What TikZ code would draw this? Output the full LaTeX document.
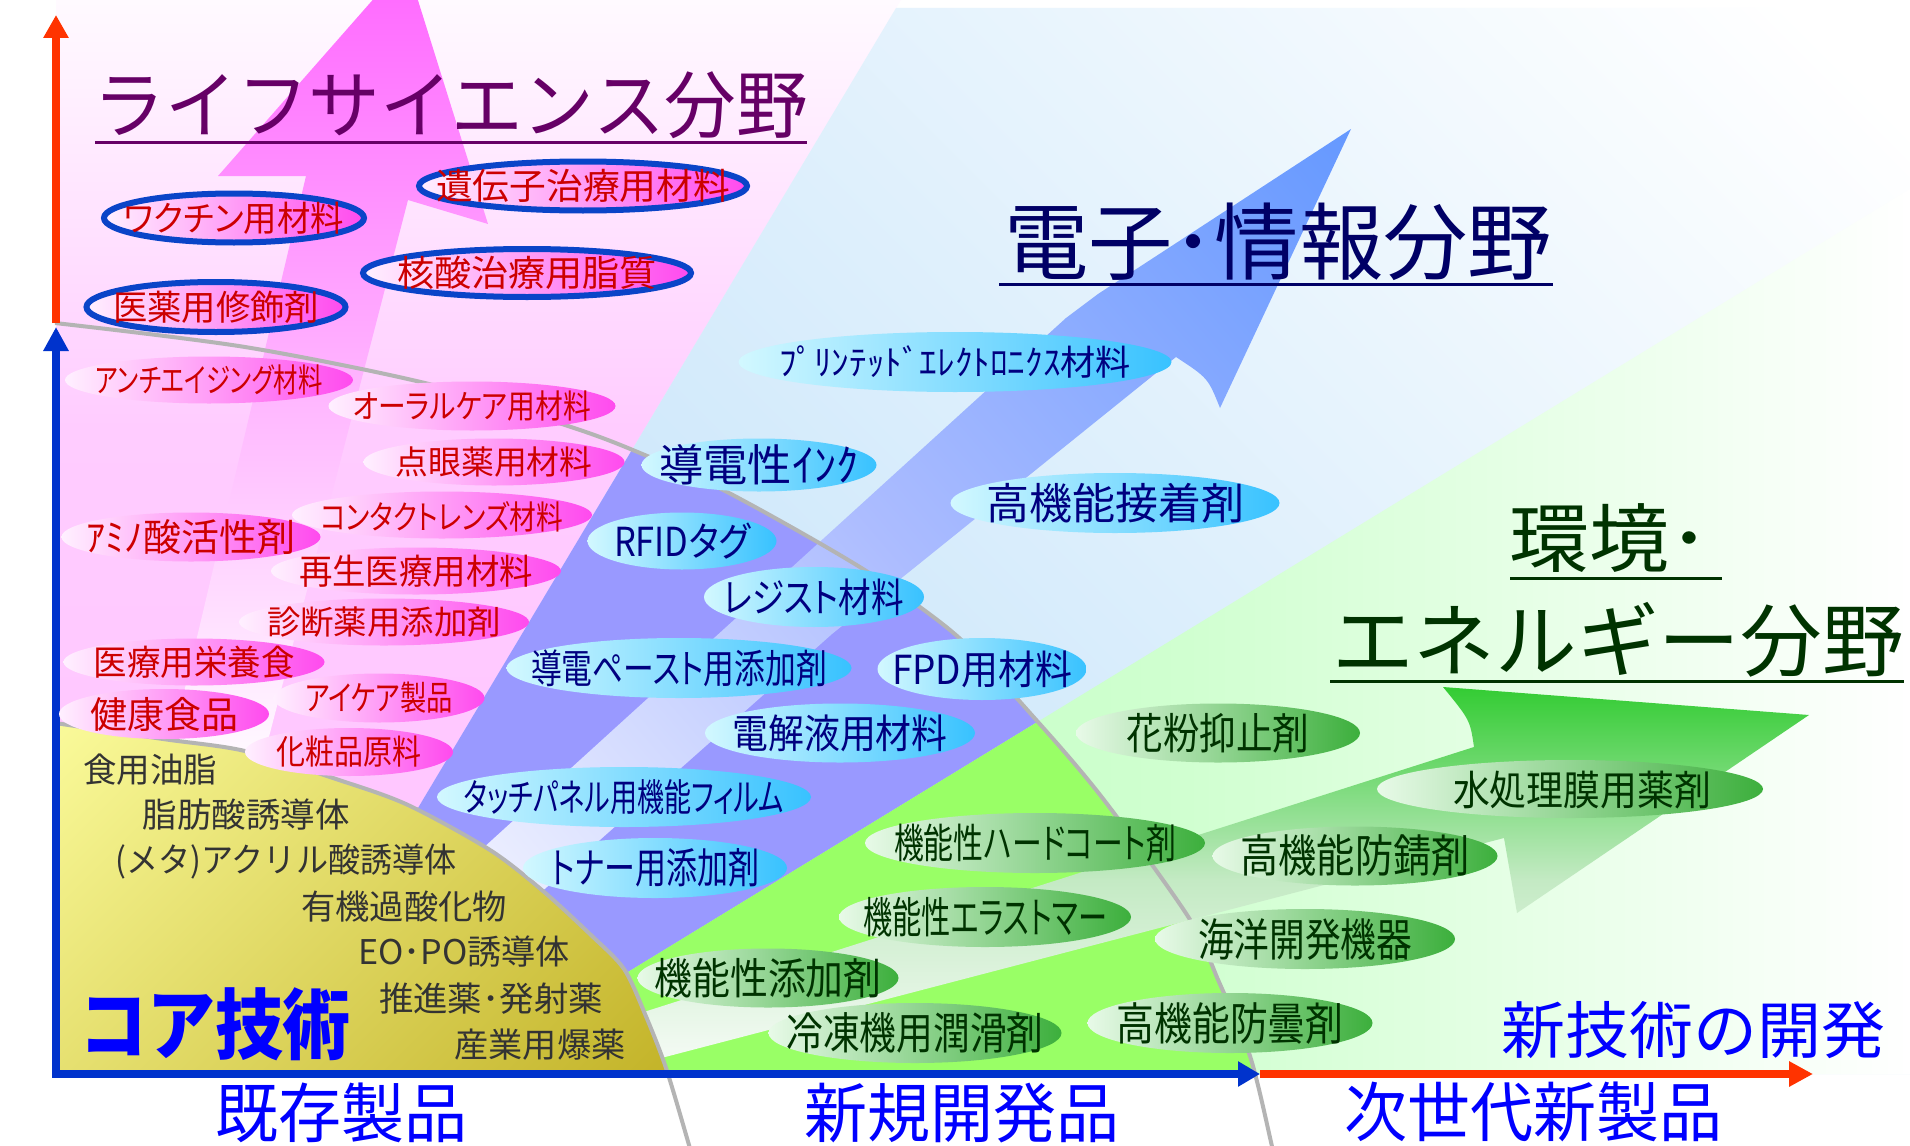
\documentclass[tikz,border=0pt]{standalone}
\usepackage{fontspec}
\usepackage{graphicx}
\setmainfont{Noto Sans CJK JP}
\newfontfamily\jpp[RawFeature=+palt]{Noto Sans CJK JP}
\usetikzlibrary{shapes.geometric,arrows.meta}
\definecolor{pinkL}{HTML}{FFF0FF}
\definecolor{pinkR}{HTML}{FF4AEE}
\definecolor{cyanL}{HTML}{D2F8FF}
\definecolor{cyanR}{HTML}{38C2FF}
\definecolor{grnL}{HTML}{E8FAE8}
\definecolor{grnR}{HTML}{3CAF3C}
\definecolor{ringblue}{HTML}{0A44C8}
\definecolor{lblred}{HTML}{CC0000}
\definecolor{lblnavy}{HTML}{000080}
\definecolor{lblgreen}{HTML}{003300}
\definecolor{lblgray}{HTML}{333333}
\definecolor{axred}{HTML}{FF3300}
\definecolor{axblue}{HTML}{0033CC}
\definecolor{violetbg}{HTML}{9999FF}
\definecolor{limebg}{HTML}{99FF66}
\definecolor{curvegray}{HTML}{B4B4B4}
\definecolor{titlepurple}{HTML}{660066}
\definecolor{titlenavy}{HTML}{000066}
\definecolor{titlegreen}{HTML}{003300}
\definecolor{pureblue}{HTML}{0000FF}
\definecolor{pinkTop}{HTML}{FFFAFF}
\definecolor{pinkMid}{HTML}{FFCCFF}
\definecolor{pinkBot}{HTML}{FFC6FF}
\definecolor{skyL}{HTML}{C6E4FA}
\definecolor{paleG1}{HTML}{B8FFB8}
\definecolor{paleG2}{HTML}{D0FFD0}
\definecolor{magA}{HTML}{FF66FF}
\definecolor{magB}{HTML}{FFFAFF}
\definecolor{eblueA}{HTML}{6699FF}
\definecolor{eblueM}{HTML}{ACBCFF}
\definecolor{eblueB}{HTML}{F8F8FF}
\definecolor{garA}{HTML}{33CC33}
\definecolor{garM}{HTML}{C4EAC4}
\definecolor{garB}{HTML}{F8FCF8}
\definecolor{yelA}{HTML}{FAFA9A}
\definecolor{yelB}{HTML}{C2B226}
\newcommand\mylbl[3]{\resizebox{#2pt}{\height}{\fontsize{#1}{#1}\selectfont #3}}
\begin{document}
\begin{tikzpicture}[x=1pt,y=-1pt,
  ellbase/.style={ellipse,inner sep=0pt,outer sep=0pt},
  pinkell/.style={ellbase,left color=pinkL,right color=pinkR},
  ringell/.style={pinkell,draw=ringblue,line width=6pt},
  blueell/.style={ellbase,left color=cyanL,right color=cyanR},
  greenell/.style={ellbase,left color=grnL,right color=grnR},
  txtbase/.style={inner sep=0pt,outer sep=0pt,font=\jpp},
  redtxt/.style={txtbase,text=lblred},
  navytxt/.style={txtbase,text=lblnavy},
  greentxt/.style={txtbase,text=lblgreen},
  coretxt/.style={inner sep=0pt,outer sep=0pt,text=lblgray},
  bluetxt/.style={inner sep=0pt,outer sep=0pt,text=pureblue},
  titletxt/.style={inner sep=0pt,outer sep=0pt},
  gcurve/.style={draw=curvegray,line width=4pt},
  axisline/.style={line width=8pt},
  uline/.style={line width=3pt}
]
\useasboundingbox (0,0) rectangle (1910,1145);
\clip (0,0) rectangle (1910,1145);
\fill[white] (0,0) rectangle (1910,1145);

% life science (pink) region
\shade[top color=pinkTop, bottom color=pinkBot, middle color=pinkMid] (56,0) -- (901,0) -- (390,855) -- (56,855) -- cycle;

% light blue region
\begin{scope}
\clip (896,8) -- (1910,8) -- (1910,1074) -- (259,1074) -- cycle;
\shade[top color=white, bottom color=skyL, shading angle=-45] (600,-200) rectangle (2000,1200);
\end{scope}

% pale green region
\shade[left color=paleG1, right color=white, middle color=paleG2] (1910,189) -- (1910,1074) -- (461,1074) -- cycle;

% violet and green inside the outer curve
\begin{scope}
\clip plot[smooth] coordinates {(55,323) (245,347) (429,384) (571,427) (640,453) (729,493) (863,569) (957,636) (1038,722) (1104,800) (1189,918) (1219,982) (1250,1056) (1271,1142) (1272,1150)} -- (0,1150) -- (0,323) -- cycle;
\fill[violetbg] (896,8) -- (1910,8) -- (1910,189) -- (461,1074) -- (259,1074) -- cycle;
\fill[limebg] (1910,189) -- (1910,1074) -- (461,1074) -- cycle;
\end{scope}

% life science arrow
\shade[top color=magA, bottom color=magB] (406,-38) -- (488,224) -- (408,200) -- (263,760) -- (168,760) -- (306,176) -- (218,176) -- cycle;

% electronics arrow
\begin{scope}
\clip (1351,129) -- (1220,408) .. controls (1208,378) .. (1176,357) -- (832,634) -- (476,950) -- (371,950) -- (1066,318) -- (1098,294) -- cycle;
\shade[top color=eblueA, bottom color=eblueB, middle color=eblueM, shading angle=-49.3] (271,-74) rectangle (1499,1154);
\end{scope}

% environment arrow
\shade[top color=garA, bottom color=garB, middle color=garM] (1443,687) -- (1809,715) -- (1517,913) -- (1504,838) -- (600,1074) -- (600,1026) -- (1474,747) .. controls (1470,720) .. (1443,687) -- cycle;

% core technology region
\begin{scope}
\clip (0,0) rectangle (1910,1074);
\clip plot[smooth] coordinates {(55,723) (163,739) (245,751) (339,780) (408,805) (490,850) (543,891) (592,936) (624,969) (645,1014) (666,1068) (689,1145) (690,1150)} -- (55,1150) -- cycle;
\shade[top color=yelA, bottom color=yelB, shading angle=45] (23,549) rectangle (721,1247);
\end{scope}

% gray boundary curves
\draw[gcurve] plot[smooth] coordinates {(55,323) (245,347) (429,384) (571,427) (640,453) (729,493) (863,569) (957,636) (1038,722) (1104,800) (1189,918) (1219,982) (1250,1056) (1271,1142) (1272,1150)};
\draw[gcurve] plot[smooth] coordinates {(55,723) (163,739) (245,751) (339,780) (408,805) (490,850) (543,891) (592,936) (624,969) (645,1014) (666,1068) (689,1145) (690,1150)};

% axes
\coordinate (O) at (56,1074);
\coordinate (Yb) at (56,327);
\coordinate (Ya) at (56,323);
\coordinate (Yt) at (56,15);
\coordinate (Xb) at (1260,1074);
\coordinate (Xt) at (1813,1074);
\draw[axisline,axblue,{Triangle[width=24pt,length=24pt]}-{Triangle[width=24pt,length=22pt]}] (Yb) -- (O) -- (Xb);
\draw[axisline,axred,-{Triangle[width=24pt,length=23pt]}] (Ya) -- (Yt);
\draw[axisline,axred,-{Triangle[width=24pt,length=24pt]}] (Xb) -- (Xt);

% titles
\node[titletxt,text=titlepurple] (tLS) at (451,105) {\mylbl{74}{714}{ライフサイエンス分野}};
\draw[uline,titlepurple] (95,142) -- (807,142);
\node[titletxt,text=titlenavy] (tEI) at (1278,242) {\mylbl{84}{548}{電子･情報分野}};
\draw[uline,titlenavy] (999,284) -- (1553,284);
\node[titletxt,text=titlegreen] (tEN1) at (1609,538) {\mylbl{75}{200}{環境･}};
\draw[uline,titlegreen] (1510,578) -- (1722,578);
\node[titletxt,text=titlegreen] (tEN2) at (1618,640) {\mylbl{80}{572}{エネルギー分野}};
\draw[uline,titlegreen] (1330,681) -- (1904,681);

% life science: outlined
\node[ringell,minimum width=260pt,minimum height=49pt] (eVac) at (234,218) {};
\node[redtxt] (tVac) at (eVac) {\mylbl{35}{220}{ワクチン用材料}};
\node[ringell,minimum width=328pt,minimum height=49pt] (eGene) at (583,186) {};
\node[redtxt] (tGene) at (eGene) {\mylbl{36}{294}{遺伝子治療用材料}};
\node[ringell,minimum width=328pt,minimum height=48pt] (eNuc) at (527,273) {};
\node[redtxt] (tNuc) at (eNuc) {\mylbl{36}{260}{核酸治療用脂質}};
\node[ringell,minimum width=259pt,minimum height=50pt] (eMod) at (216,307) {};
\node[redtxt] (tMod) at (eMod) {\mylbl{35}{206}{医薬用修飾剤}};

% life science: plain
\node[pinkell,minimum width=288pt,minimum height=47pt] (eAnti) at (209,380) {};
\node[redtxt] (tAnti) at (eAnti) {\mylbl{33}{227}{アンチエイジング材料}};
\node[pinkell,minimum width=287pt,minimum height=49pt] (eOral) at (472,406) {};
\node[redtxt] (tOral) at (eOral) {\mylbl{33}{238}{オーラルケア用材料}};
\node[pinkell,minimum width=261pt,minimum height=47pt] (eEye) at (494,462) {};
\node[redtxt] (tEye) at (eEye) {\mylbl{33}{197}{点眼薬用材料}};
\node[pinkell,minimum width=300pt,minimum height=47pt] (eLens) at (442,515) {};
\node[redtxt] (tLens) at (442,517) {\mylbl{33}{242}{コンタクトレンズ材料}};
\node[pinkell,minimum width=259pt,minimum height=49pt] (eAmino) at (191,537) {};
\node[redtxt] (tAmino) at (eAmino) {\mylbl{38}{209}{ｱﾐﾉ酸活性剤}};
\node[pinkell,minimum width=290pt,minimum height=47pt] (eRegen) at (416,571) {};
\node[redtxt] (tRegen) at (eRegen) {\mylbl{35}{234}{再生医療用材料}};
\node[pinkell,minimum width=290pt,minimum height=47pt] (eDiag) at (384,622) {};
\node[redtxt] (tDiag) at (eDiag) {\mylbl{33}{234}{診断薬用添加剤}};
\node[pinkell,minimum width=261pt,minimum height=47pt] (eNutr) at (194,662) {};
\node[redtxt] (tNutr) at (eNutr) {\mylbl{35}{201}{医療用栄養食}};
\node[pinkell,minimum width=211pt,minimum height=49pt] (eCare) at (379,698) {};
\node[redtxt] (tCare) at (eCare) {\mylbl{34}{148}{アイケア製品}};
\node[pinkell,minimum width=210pt,minimum height=50pt] (eHealth) at (164,714) {};
\node[redtxt] (tHealth) at (eHealth) {\mylbl{37}{148}{健康食品}};
\node[pinkell,minimum width=208pt,minimum height=48pt] (eCosm) at (349,752) {};
\node[redtxt] (tCosm) at (eCosm) {\mylbl{34}{145}{化粧品原料}};

% electronics
\node[blueell,minimum width=433pt,minimum height=60pt] (ePrint) at (955,362) {};
\node[navytxt] (tPrint) at (ePrint) {\mylbl{35}{352}{ﾌﾟﾘﾝﾃｯﾄﾞｴﾚｸﾄﾛﾆｸｽ材料}};
\node[blueell,minimum width=235pt,minimum height=53pt] (eInk) at (759,465) {};
\node[navytxt] (tInk) at (eInk) {\mylbl{44}{199}{導電性ｲﾝｸ}};
\node[blueell,minimum width=329pt,minimum height=60pt] (eAdh) at (1115,503) {};
\node[navytxt] (tAdh) at (eAdh) {\mylbl{43}{258}{高機能接着剤}};
\node[blueell,minimum width=189pt,minimum height=57pt] (eRfid) at (682,541) {};
\node[navytxt] (tRfid) at (eRfid) {\mylbl{40}{136}{RFIDタグ}};
\node[blueell,minimum width=220pt,minimum height=60pt] (eResist) at (814,597) {};
\node[navytxt] (tResist) at (eResist) {\mylbl{40}{180}{レジスト材料}};
\node[blueell,minimum width=345pt,minimum height=60pt] (ePaste) at (679,668) {};
\node[navytxt] (tPaste) at (ePaste) {\mylbl{40}{296}{導電ペースト用添加剤}};
\node[blueell,minimum width=209pt,minimum height=62pt] (eFpd) at (982,669) {};
\node[navytxt] (tFpd) at (eFpd) {\mylbl{40}{180}{FPD用材料}};
\node[blueell,minimum width=270pt,minimum height=59pt] (eElec) at (840,733) {};
\node[navytxt] (tElec) at (eElec) {\mylbl{40}{215}{電解液用材料}};
\node[blueell,minimum width=374pt,minimum height=60pt] (eTouch) at (624,797) {};
\node[navytxt] (tTouch) at (eTouch) {\mylbl{38}{320}{タッチパネル用機能フィルム}};
\node[blueell,minimum width=264pt,minimum height=60pt] (eToner) at (655,868) {};
\node[navytxt] (tToner) at (eToner) {\mylbl{42}{208}{トナー用添加剤}};

% environment
\node[greenell,minimum width=284pt,minimum height=59pt] (ePollen) at (1218,733) {};
\node[greentxt] (tPollen) at (ePollen) {\mylbl{43}{183}{花粉抑止剤}};
\node[greenell,minimum width=386pt,minimum height=58pt] (eWater) at (1570,789) {};
\node[greentxt] (tWater) at (1582,790) {\mylbl{41}{258}{水処理膜用薬剤}};
\node[greenell,minimum width=340pt,minimum height=60pt] (eHard) at (1035,843) {};
\node[greentxt] (tHard) at (eHard) {\mylbl{41}{282}{機能性ハードコート剤}};
\node[greenell,minimum width=285pt,minimum height=59pt] (eRust) at (1355,856) {};
\node[greentxt] (tRust) at (eRust) {\mylbl{45}{229}{高機能防錆剤}};
\node[greenell,minimum width=292pt,minimum height=60pt] (eElast) at (985,917) {};
\node[greentxt] (tElast) at (eElast) {\mylbl{43}{244}{機能性エラストマー}};
\node[greenell,minimum width=300pt,minimum height=60pt] (eMarine) at (1305,939) {};
\node[greentxt] (tMarine) at (eMarine) {\mylbl{45}{214}{海洋開発機器}};
\node[greenell,minimum width=261pt,minimum height=59pt] (eAdd) at (768,978) {};
\node[greentxt] (tAdd) at (eAdd) {\mylbl{43}{227}{機能性添加剤}};
\node[greenell,minimum width=285pt,minimum height=60pt] (eFog) at (1230,1023) {};
\node[greentxt] (tFog) at (eFog) {\mylbl{45}{227}{高機能防曇剤}};
\node[greenell,minimum width=293pt,minimum height=60pt] (eRefr) at (915,1033) {};
\node[greentxt] (tRefr) at (eRefr) {\mylbl{44}{257}{冷凍機用潤滑剤}};

% core technologies
\node[coretxt] (c1) at (150,770) {\mylbl{34}{134}{食用油脂}};
\node[coretxt] (c2) at (246,815) {\mylbl{34}{207}{脂肪酸誘導体}};
\node[coretxt] (c3) at (286,862) {\mylbl{34}{341}{(メタ)アクリル酸誘導体}};
\node[coretxt] (c4) at (404,907) {\mylbl{34}{206}{有機過酸化物}};
\node[coretxt] (c5) at (464,952) {\mylbl{34}{212}{EO･PO誘導体}};
\node[coretxt] (c6) at (491,999) {\mylbl{34}{224}{推進薬･発射薬}};
\node[coretxt] (c7) at (540,1045) {\mylbl{34}{171}{産業用爆薬}};
\node[bluetxt] (core) at (215,1024) {\mylbl{77}{272}{\bfseries コア技術}};

% axis labels
\node[bluetxt] (b1) at (341,1113) {\mylbl{65}{252}{既存製品}};
\node[bluetxt] (b2) at (962,1113) {\mylbl{65}{315}{新規開発品}};
\node[bluetxt] (b3) at (1533,1112) {\mylbl{65}{378}{次世代新製品}};
\node[bluetxt] (b4) at (1693,1030) {\mylbl{62}{384}{新技術の開発}};
\end{tikzpicture}
\end{document}
